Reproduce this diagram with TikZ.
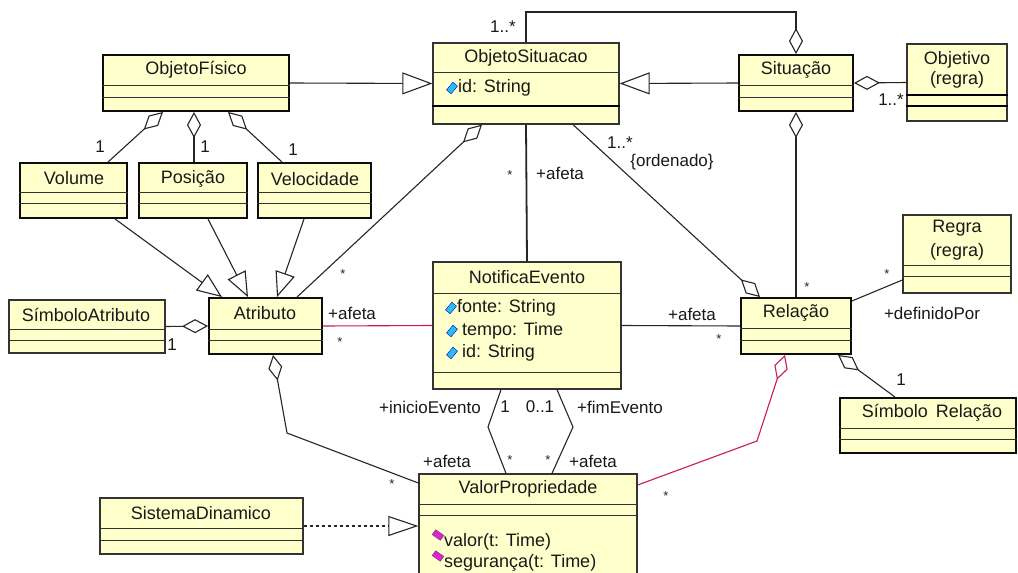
\documentclass[tikz,border=0pt]{standalone}
\usepackage{fontspec}
\setmainfont{Liberation Sans}
\usetikzlibrary{arrows.meta,fit}
\definecolor{classfill}{RGB}{255,255,204}
\definecolor{assocred}{RGB}{200,30,75}
\definecolor{attrblue}{RGB}{40,190,240}
\definecolor{opmagenta}{RGB}{230,30,220}

\tikzset{
  classbox/.style={draw=black!80, line width=1.3pt, fill=classfill, inner sep=0pt},
  heavy/.style={draw=black!95, line width=1.9pt},
  divider/.style={draw=black!80, line width=1pt},
  cname/.style={font=\fontsize{18}{21}\selectfont, inner sep=0pt, text=black!90},
  member/.style={font=\fontsize{18}{21}\selectfont, inner sep=0pt, anchor=west, text=black!90},
  role/.style={font=\fontsize{17}{20}\selectfont, inner sep=0pt, text=black!90},
  mult/.style={font=\fontsize{13}{13}\selectfont, inner sep=0pt, text=black!85},
  conn/.style={draw=black!85, line width=1.1pt},
  gen/.style={conn, -{Triangle[open, length=30pt, width=22pt, line width=1.1pt]}},
  gensmall/.style={conn, -{Triangle[open, length=25pt, width=20pt, line width=1.1pt]}},
  aggstart/.style={conn, {Diamond[open, length=26pt, width=14pt, line width=1.1pt]}-},
  aggend/.style={conn, -{Diamond[open, length=26pt, width=14pt, line width=1.1pt]}},
  attricon/.style={draw=blue!80!black, fill=attrblue, minimum width=10pt, minimum height=6pt, inner sep=0pt, rotate=50},
  opicon/.style={draw=black!70, fill=opmagenta, minimum width=10pt, minimum height=6pt, inner sep=0pt, rotate=-35},
}

% class box: [style] name, x1, y1, x2, y2, first divider, second divider
\newcommand\umlclass[8][]{%
  \node[classbox,#1,fit={(#3,#4) (#5,#6)}] (#2) {};
  \draw[divider] (#2.west |- 0,#7) -- (#2.east |- 0,#7);
  \draw[divider] (#2.west |- 0,#8) -- (#2.east |- 0,#8);}

\begin{document}
\begin{tikzpicture}[x=1pt,y=-1pt]
\useasboundingbox (0,0) rectangle (1018,573);
\clip (0,0) rectangle (1018,573);
\fill[white] (0,0) rectangle (1018,573);

% classes
\umlclass[heavy]{ofis}{103}{55}{289}{111}{85}{97}
\umlclass{osit}{433}{43}{619}{124}{72}{106}
\umlclass[heavy]{sit}{739}{55}{853}{111}{85}{97}
\umlclass{obj}{907}{44}{1007}{121}{95}{106}
\umlclass[heavy]{vol}{20}{163}{127}{218}{192}{203}
\umlclass[heavy]{pos}{139}{163}{247}{218}{192}{203}
\umlclass[heavy]{vel}{258}{163}{371}{218}{192}{203}
\umlclass{satr}{9}{300}{165}{353}{329}{340}
\umlclass[heavy]{atr}{209}{298}{322}{354}{329}{340}
\umlclass{nev}{433}{262}{621}{389}{293}{372}
\umlclass[heavy]{rel}{741}{298}{851}{354}{328}{340}
\umlclass{reg}{903}{215}{1011}{293}{265}{276}
\umlclass[heavy]{srel}{840}{398}{1016}{453}{428}{439}
\umlclass{vp}{419}{474}{637}{600}{504}{515}
\umlclass{sdin}{100}{498}{303}{554}{528}{540}
% heavier lower dividers
\draw[line width=1.8pt] (osit.west |- 0,106) -- (osit.east |- 0,106);
\draw[line width=1.8pt] (obj.west |- 0,95) -- (obj.east |- 0,95);
\draw[line width=1.8pt] (obj.west |- 0,106) -- (obj.east |- 0,106);

% class names
\node[cname] (ofis-n) at (196,70) {ObjetoFísico};
\node[cname] (osit-n) at (526,58) {ObjetoSituacao};
\node[cname] (sit-n) at (796,70) {Situação};
\node[cname] (obj-n) at (957,60) {Objetivo};
\node[cname] (obj-n2) at (957,80) {(regra)};
\node[cname] (vol-n) at (74,178) {Volume};
\node[cname] (pos-n) at (193,179) {Posição};
\node[cname] (vel-n) at (315,179) {Velocidade};
\node[cname] (satr-n) at (86,315) {SímboloAtributo};
\node[cname] (atr-n) at (265,313) {Atributo};
\node[cname] (nev-n) at (527,277) {NotificaEvento};
\node[cname] (rel-n) at (796,313) {Relação};
\node[cname] (reg-n) at (957,228) {Regra};
\node[cname] (reg-n2) at (957,252) {(regra)};
\node[cname] (srel-n) at (932,413) {Símbolo\ \,Relação};
\node[cname] (vp-n) at (528,489) {ValorPropriedade};
\node[cname] (sdin-n) at (201,513) {SistemaDinamico};

% attributes and operations
\node[attricon] (osit-i1) at (452,88) {};
\node[member] (osit-a1) at (458,88) {id: String};
\node[attricon] (nev-i1) at (451,308) {};
\node[member] (nev-a1) at (457,308) {fonte: String};
\node[attricon] (nev-i2) at (452,331) {};
\node[member] (nev-a2) at (462,331) {tempo: Time};
\node[attricon] (nev-i3) at (452,353) {};
\node[member] (nev-a3) at (462,353) {id: String};
\node[opicon] (vp-i1) at (438,535) {};
\node[member] (vp-o1) at (444,542) {valor(t: Time)};
\node[opicon] (vp-i2) at (438,556) {};
\node[member] (vp-o2) at (444,563) {segurança(t: Time)};

% generalisations
\draw[gen] (ofis.east) -- (osit.west);
\draw[gen] (sit.west) -- (osit.east);
\draw[gensmall] (vol.south -| 115,0) -- (atr.north -| 222,0);
\draw[gensmall] (pos.south -| 208,0) -- (atr.north -| 248,0);
\draw[gensmall] (vel.south -| 304,0) -- (atr.north -| 277,0);
\draw[conn, dashed, -{Triangle[open, length=30pt, width=20pt, line width=1.1pt]}] (sdin.east) -- (sdin.east -| vp.west);

% aggregations
\draw[aggend, line width=1.8pt] (osit.north) -- (osit.north |- 0,12) -| (sit.north);
\draw[aggstart] (sit.east) -- (obj.west);
\draw[aggstart] (sit.south) -- (rel.north);
\draw[aggstart] (osit.south -| 482,0) -- (atr.north -| 297,0);
\draw[aggend] (osit.south -| 573,0) -- (rel.north -| 760,0);
\draw[aggstart] (ofis.south -| 163,0) -- (vol.north -| 108,0);
\draw[aggstart, line width=1.8pt] (ofis.south -| 194,0) -- (pos.north -| 194,0);
\draw[aggstart] (ofis.south -| 228,0) -- (vel.north -| 282,0);
\draw[aggstart] (atr.west) -- (satr.east);
\draw[aggstart] (rel.south -| 838,0) -- (srel.north -| 895,0);
\draw[aggstart, draw=assocred] (rel.south -| 785,0) -- (757,441) -- (vp.east |- 0,485);
\draw[aggstart] (atr.south -| 273,0) -- (287,433) -- (vp.west |- 0,483);

% associations
\draw[conn, line width=1.8pt] (osit.south) -- (nev.north);
\draw[conn, draw=assocred] (atr.east) -- (nev.west);
\draw[conn] (nev.east) -- (rel.west);
\draw[conn] (rel.east |- 0,301) -- (reg.west |- 0,280);
\draw[conn] (nev.south -| 501,0) -- (488,427) -- (vp.north -| 506,0);
\draw[conn] (nev.south -| 557,0) -- (573,427) -- (vp.north -| 552,0);

% roles and multiplicities
\node[role] (m1) at (503,27) {1..*};
\node[mult] (m2) at (510,175) {*};
\node[role, anchor=west] (r1) at (536,173) {+afeta};
\node[role] (m3) at (620,143) {1..*};
\node[role] (r2) at (672,162) {\{ordenado\}};
\node[role] (m4) at (891,100) {1..*};
\node[mult] (m5) at (807,287) {*};
\node[mult] (m6) at (887,274) {*};
\node[role] (r3) at (932,313) {+definidoPor};
\node[role] (r4) at (692,314) {+afeta};
\node[mult] (m7) at (719,339) {*};
\node[role] (m8) at (901,380) {1};
\node[mult] (m9) at (666,496) {*};
\node[role, anchor=west] (r5) at (328,313) {+afeta};
\node[mult] (m10) at (340,342) {*};
\node[role] (m11) at (172,345) {1};
\node[mult] (m12) at (343,274) {*};
\node[role] (m13) at (100,147) {1};
\node[role] (m14) at (205,147) {1};
\node[role] (m15) at (293,150) {1};
\node[role] (r6) at (430,407) {+inicioEvento};
\node[role] (m16) at (505,407) {1};
\node[role] (m17) at (540,407) {0..1};
\node[role] (r7) at (620,407) {+fimEvento};
\node[mult] (m18) at (510,460) {*};
\node[mult] (m19) at (548,460) {*};
\node[role] (r8) at (447,461) {+afeta};
\node[role] (r9) at (593,461) {+afeta};
\node[mult] (m20) at (392,484) {*};
\end{tikzpicture}
\end{document}
